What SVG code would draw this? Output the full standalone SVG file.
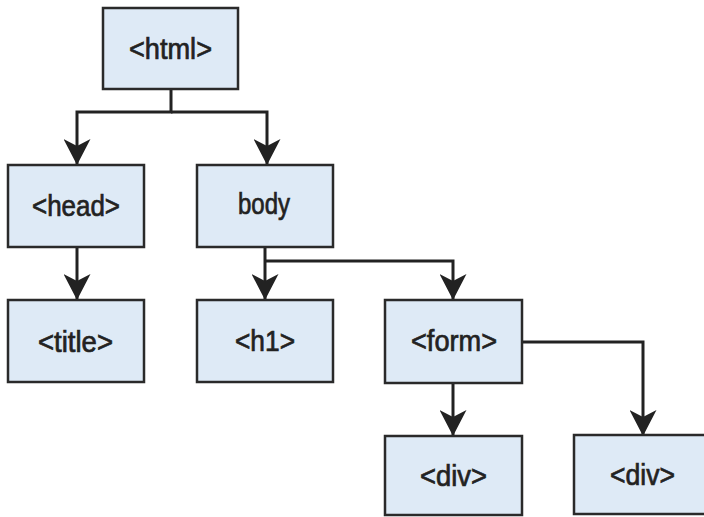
<svg xmlns="http://www.w3.org/2000/svg" width="704" height="517" viewBox="0 0 704 517">
  <defs>
    <marker id="arrow" markerUnits="userSpaceOnUse" markerWidth="27" markerHeight="27" refX="26" refY="13.5" orient="auto">
      <path d="M0,0 L26,13.5 L0,27 L7,13.5 Z" fill="#222"/>
    </marker>
    <style>
      .box { fill: #deeaf6; stroke: #2a2a2a; stroke-width: 2.5; }
      .lbl { font-family: "Liberation Sans", Arial, sans-serif; font-size: 29px; font-weight: normal; fill: #222; stroke: #222; stroke-width: 0.7; text-anchor: middle; }
      .wire { fill: none; stroke: #222; stroke-width: 3; }
      .wire.arr { marker-end: url(#arrow); }
    </style>
  </defs>
  <rect width="704" height="517" fill="#ffffff"/>

  <g id="connectors">
    <path class="wire arr" d="M171,89 V112 H77 V165"/>
    <path class="wire arr" d="M171,112 H267 V165"/>
    <path class="wire arr" d="M77,247 V300"/>
    <path class="wire arr" d="M265,247 V300"/>
    <path class="wire arr" d="M265,261 H453 V300"/>
    <path class="wire arr" d="M453,383 V436"/>
    <path class="wire arr" d="M522,342 H643 V436"/>
  </g>

  <g id="node-html">
    <rect class="box" x="103" y="8" width="135" height="81"/>
    <text class="lbl" x="170.5" y="59" textLength="83" lengthAdjust="spacingAndGlyphs">&lt;html&gt;</text>
  </g>
  <g id="node-head">
    <rect class="box" x="8" y="165" width="136" height="82"/>
    <text class="lbl" x="76" y="216" textLength="88" lengthAdjust="spacingAndGlyphs">&lt;head&gt;</text>
  </g>
  <g id="node-body">
    <rect class="box" x="197" y="165" width="136" height="82"/>
    <text class="lbl" x="264" y="214" textLength="52" lengthAdjust="spacingAndGlyphs">body</text>
  </g>
  <g id="node-title">
    <rect class="box" x="8" y="300" width="136" height="82"/>
    <text class="lbl" x="75.5" y="352" textLength="75" lengthAdjust="spacingAndGlyphs">&lt;title&gt;</text>
  </g>
  <g id="node-h1">
    <rect class="box" x="197" y="300" width="136" height="82"/>
    <text class="lbl" x="265" y="351" textLength="60" lengthAdjust="spacingAndGlyphs">&lt;h1&gt;</text>
  </g>
  <g id="node-form">
    <rect class="box" x="385" y="300" width="137" height="83"/>
    <text class="lbl" x="454" y="351" textLength="86" lengthAdjust="spacingAndGlyphs">&lt;form&gt;</text>
  </g>
  <g id="node-div1">
    <rect class="box" x="385" y="436" width="137" height="79"/>
    <text class="lbl" x="453.5" y="486" textLength="67" lengthAdjust="spacingAndGlyphs">&lt;div&gt;</text>
  </g>
  <g id="node-div2">
    <rect class="box" x="574" y="435" width="136" height="79"/>
    <text class="lbl" x="642.5" y="485" textLength="65" lengthAdjust="spacingAndGlyphs">&lt;div&gt;</text>
  </g>
</svg>
